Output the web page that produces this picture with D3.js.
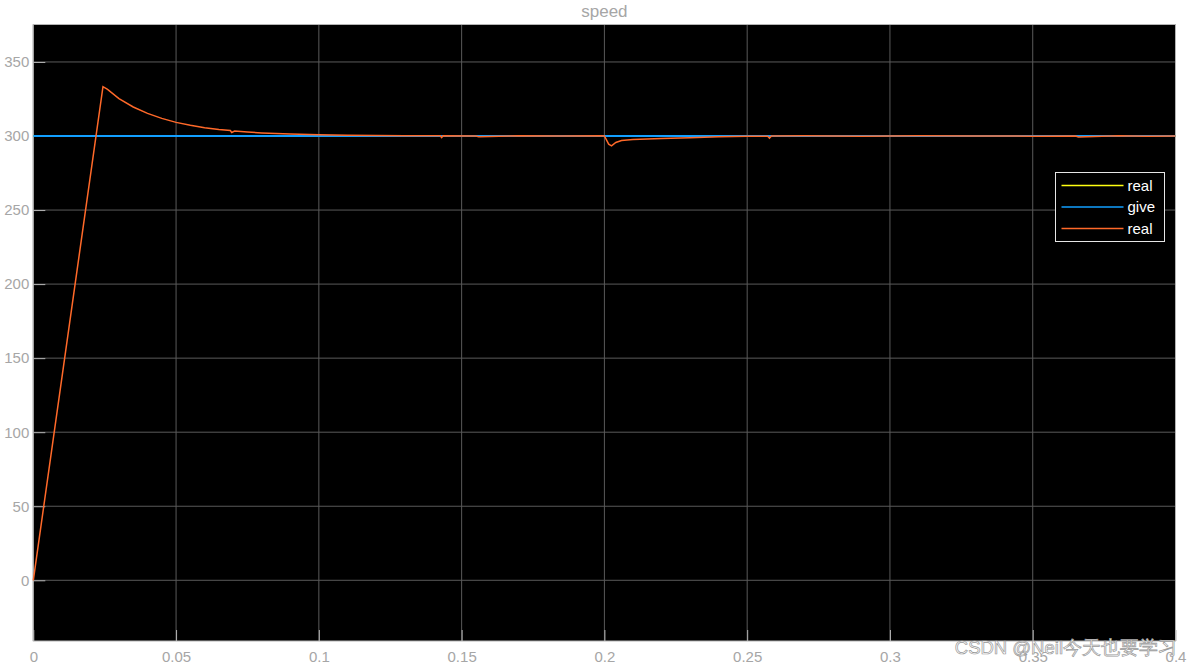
<!DOCTYPE html>
<html>
<head>
<meta charset="utf-8">
<script src="https://cdn.jsdelivr.net/npm/d3@7"></script>
<style>
  body { margin: 0; background: #fff; }
  svg text { font-family: "Liberation Sans", Arial, sans-serif; }
</style>
</head>
<body>
<div class="scope"></div>
<script>
// values
var xTicks = [0, 0.05, 0.1, 0.15, 0.2, 0.25, 0.3, 0.35, 0.4];
var yTicks = [0, 50, 100, 150, 200, 250, 300, 350];

var giveT = [0, 0.4];
var giveV = [300, 300];

var realT = [0, 0.0244, 0.026, 0.03, 0.035, 0.04, 0.045, 0.05, 0.055, 0.06, 0.065,
  0.069, 0.0695, 0.0705, 0.075, 0.08, 0.09, 0.1, 0.11, 0.12, 0.13, 0.1425, 0.143,
  0.1435, 0.155, 0.156, 0.17, 0.185, 0.199, 0.2, 0.2015, 0.2025, 0.204, 0.206, 0.21,
  0.22, 0.23, 0.24, 0.25, 0.2572, 0.2578, 0.2585, 0.27, 0.29, 0.31, 0.33, 0.35,
  0.365, 0.366, 0.38, 0.39, 0.4];
var realV = [0, 333.3, 331.5, 325.2, 319.6, 315.3, 311.9, 309.2, 307.2, 305.6, 304.4,
  303.7, 302.4, 303.3, 302.7, 302.1, 301.3, 300.8, 300.5, 300.3, 300.2, 300.1, 298.9,
  300.1, 300.0, 299.5, 300.2, 300.0, 300.2, 300.0, 294.5, 293.4, 295.6, 297.0, 297.6,
  298.3, 298.9, 299.5, 299.8, 299.8, 298.6, 300.0, 300.2, 299.8, 300.2, 300.0, 299.9,
  300.0, 299.4, 300.2, 299.8, 300.0];

var legendNames = ["real", "give", "real"];
var legendColors = ["#ffff11", "#129fff", "#ff6929"];

var svgWidth = 1191, svgHeight = 665;
var margin = { top: 24.5, right: 15.5, bottom: 24, left: 33.3 };
var width = svgWidth - margin.left - margin.right;
var height = svgHeight - margin.top - margin.bottom;

var svg = d3.select(".scope").append("svg")
  .attr("width", svgWidth)
  .attr("height", svgHeight);

var chartGroup = svg.append("g")
  .attr("transform", `translate(${margin.left}, ${margin.top})`);

var x = d3.scaleLinear().domain([0, 0.4]).range([0, width]);
var y = d3.scaleLinear().domain([-41, 375.3]).range([height, 0]);

chartGroup.append("rect")
  .attr("width", width).attr("height", height)
  .attr("fill", "#000");

// grid
chartGroup.selectAll(".gx").data(xTicks).enter().append("line")
  .attr("x1", d => x(d)).attr("x2", d => x(d))
  .attr("y1", 0).attr("y2", height)
  .attr("stroke", "#5a5a5a").attr("stroke-width", 1);
chartGroup.selectAll(".gy").data(yTicks).enter().append("line")
  .attr("x1", 0).attr("x2", width)
  .attr("y1", d => y(d)).attr("y2", d => y(d))
  .attr("stroke", "#5a5a5a").attr("stroke-width", 1);

// axes, ticks inside
var xAxis = d3.axisBottom(x).tickValues(xTicks).tickSize(-11).tickPadding(16)
  .tickFormat(d => d3.format("")(+d.toFixed(2)));
var yAxis = d3.axisLeft(y).tickValues(yTicks).tickSize(-12).tickPadding(4);

var gx = chartGroup.append("g")
  .attr("transform", `translate(0, ${height})`)
  .call(xAxis);
var gy = chartGroup.append("g").call(yAxis);
[gx, gy].forEach(function(g) {
  g.select(".domain").remove();
  g.selectAll(".tick line").attr("stroke", "#b4b4b4");
  g.selectAll(".tick text").attr("fill", "#a6a6a6").attr("font-size", 15)
    .attr("font-family", "Liberation Sans, Arial, sans-serif");
});
gx.selectAll(".tick text").attr("dy", "0.35em").attr("y", 16);

// frame
chartGroup.append("rect")
  .attr("width", width).attr("height", height)
  .attr("fill", "none").attr("stroke", "#b4b4b4").attr("stroke-width", 1);

// signals
var line = d3.line().x(d => x(d[0])).y(d => y(d[1]));

chartGroup.append("path")
  .datum(d3.zip(giveT, giveV))
  .attr("d", line).attr("fill", "none")
  .attr("stroke", legendColors[0]).attr("stroke-width", 1.5);
chartGroup.append("path")
  .datum(d3.zip(giveT, giveV))
  .attr("d", line).attr("fill", "none")
  .attr("stroke", legendColors[1]).attr("stroke-width", 2);
chartGroup.append("path")
  .datum(d3.zip(realT, realV))
  .attr("d", line).attr("fill", "none")
  .attr("stroke", legendColors[2]).attr("stroke-width", 1.5);

// legend
var legend = svg.append("g").attr("transform", "translate(1055.5, 172.5)");
legend.append("rect")
  .attr("width", 109).attr("height", 69)
  .attr("fill", "#000").attr("stroke", "#e6e6e6").attr("stroke-width", 1);
legendNames.forEach(function(name, i) {
  var ly = 13 + i * 21.5;
  legend.append("line")
    .attr("x1", 6).attr("x2", 68).attr("y1", ly).attr("y2", ly)
    .attr("stroke", legendColors[i]).attr("stroke-width", 1.5);
  legend.append("text")
    .attr("x", 72).attr("y", ly).attr("dy", "0.35em")
    .attr("fill", "#fff").attr("font-size", 15)
    .text(name);
});

// title
svg.append("text")
  .attr("x", margin.left + width / 2).attr("y", 11).attr("dy", "0.35em")
  .attr("text-anchor", "middle")
  .attr("fill", "#a6a6a6").attr("font-size", 17)
  .text("speed");

// watermark
svg.append("text")
  .attr("x", 1177).attr("y", 654)
  .attr("text-anchor", "end")
  .attr("fill", "#fff").attr("stroke", "#999").attr("stroke-width", 0.7)
  .attr("font-size", 18.5)
  .attr("font-family", "Liberation Sans, Noto Sans CJK SC, sans-serif")
  .text("CSDN @Neil今天也要学习");
</script>
</body>
</html>
